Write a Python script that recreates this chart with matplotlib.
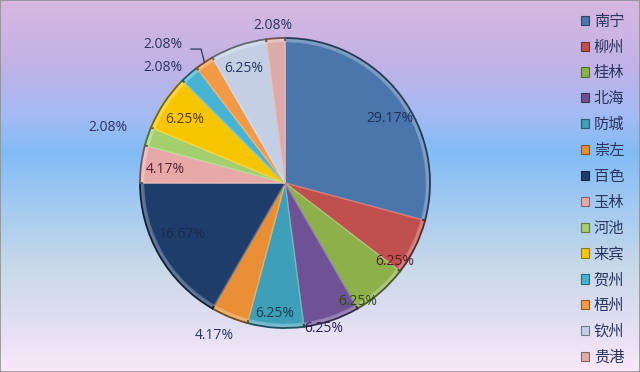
import numpy as np
import matplotlib
matplotlib.use("Agg")
import matplotlib.pyplot as plt
from matplotlib.colors import LinearSegmentedColormap, to_rgb
from matplotlib.patches import Rectangle

plt.rcParams['font.family'] = ['Noto Sans CJK SC', 'DejaVu Sans']

cities = ['南宁', '柳州', '桂林', '北海', '防城', '崇左', '百色',
          '玉林', '河池', '来宾', '贺州', '梧州', '钦州', '贵港']
shares = [29.17, 6.25, 6.25, 6.25, 6.25, 4.17, 16.67,
          4.17, 2.08, 6.25, 2.08, 2.08, 6.25, 2.08]
colors = ['#4a76ab', '#c0504d', '#8db04a', '#6e5295', '#3e9fb8', '#e88f35', '#1f3d6b',
          '#e6a9a8', '#a3cf6e', '#f7c600', '#46b3d2', '#f29a45', '#c3cfe3', '#dcaaa8']
label_colors = ['#1f2f5a', '#5a1a1a', '#2d4a10', '#2f2050', '#1a3d55', '#2a3560', '#1a2a50',
                '#5a2030', '#2a3560', '#5a4000', '#2a3560', '#2a3560', '#2a3560', '#2a3560']
label_r = [0.85, 0.93, 0.96, 1.04, 0.90, 1.16, 0.79, 0.83, 1.28, 0.82, 1.16, 1.27, 0.84, 1.09]
label_dang = [-5.7, -9.5, -9.7, -3.8, -0.7, -2.5, -3.4, 1.3, 1.5, 1.6, 5.5, 7.6, 0.9, 0.6]

W, H = 640, 372
fig = plt.figure(figsize=(W / 100, H / 100), dpi=100)

# background gradient
bg = fig.add_axes([0, 0, 1, 1])
bg.set_axis_off()
stops = [(0.0, '#d6b8e0'), (0.17, '#c2b2e6'), (0.30, '#a6baf2'), (0.41, '#82bcf6'),
         (0.55, '#a2c9f0'), (0.72, '#c8d9e8'), (0.86, '#e0def2'), (1.0, '#f8e8f8')]
cmap = LinearSegmentedColormap.from_list('bg', stops)
grad = np.linspace(0, 1, 400).reshape(-1, 1)
bg.imshow(grad, aspect='auto', cmap=cmap, extent=[0, 1, 0, 1], origin='upper')
bg.set_xlim(0, 1)
bg.set_ylim(0, 1)
bg.add_patch(Rectangle((0, 0), 1, 1, fill=False, edgecolor='#909090', linewidth=1.2))

# pie
cx, cy, R = 285, 183, 145
ax = fig.add_axes([(cx - R) / W, (H - cy - R) / H, 2 * R / W, 2 * R / H])
ax.set_axis_off()

def darker(c, f=0.6):
    r, g, b = to_rgb(c)
    return (r * f, g * f, b * f)

def lighter(c, f=0.45):
    r, g, b = to_rgb(c)
    return (r + (1 - r) * f, g + (1 - g) * f, b + (1 - b) * f)

# base layer: highlight tone with dark outline
wedges, _ = ax.pie(shares, colors=[lighter(c, 0.3) for c in colors], startangle=90,
                   counterclock=False, radius=1.0, wedgeprops=dict(linewidth=1.3))
for w, c in zip(wedges, colors):
    w.set_edgecolor(darker(c, 0.5))
# body layer
wedges3, _ = ax.pie(shares, colors=colors, startangle=90, counterclock=False,
                    radius=0.975, wedgeprops=dict(linewidth=1.0))
for w, c in zip(wedges3, colors):
    w.set_edgecolor(lighter(c, 0.25))
ax.set_xlim(-1, 1)
ax.set_ylim(-1, 1)

total = sum(shares)
start = 90.0
for i, v in enumerate(shares):
    span = 360.0 * v / total
    mid = start - span / 2
    ang = np.deg2rad(mid + label_dang[i])
    r = label_r[i]
    x, y = r * np.cos(ang), r * np.sin(ang)
    ax.text(x, y, f'{v:.2f}%', ha='center', va='center', fontsize=10,
            color=label_colors[i], family=['Open Sans', 'DejaVu Sans'], clip_on=False)
    if i == 11:
        ex, ey = 1.0 * np.cos(np.deg2rad(mid)), 1.0 * np.sin(np.deg2rad(mid))
        ax.plot([x + 0.19, x + 0.26, ex], [y - 0.03, y - 0.03, ey],
                color='#2a3560', lw=0.9, clip_on=False)
    start -= span

# legend
handles = [Rectangle((0, 0), 1, 1, facecolor=c, edgecolor=darker(c, 0.6), linewidth=0.8)
           for c in colors]
leg = fig.legend(handles, cities, loc='upper left', bbox_to_anchor=(570 / W, 1 - 2 / H),
                 frameon=False, fontsize=11, handlelength=0.55, handleheight=0.55,
                 handletextpad=0.3, labelspacing=0.58, borderpad=0.2)
for t in leg.get_texts():
    t.set_color('#2a3560')

fig.savefig('out.png', dpi=100)
